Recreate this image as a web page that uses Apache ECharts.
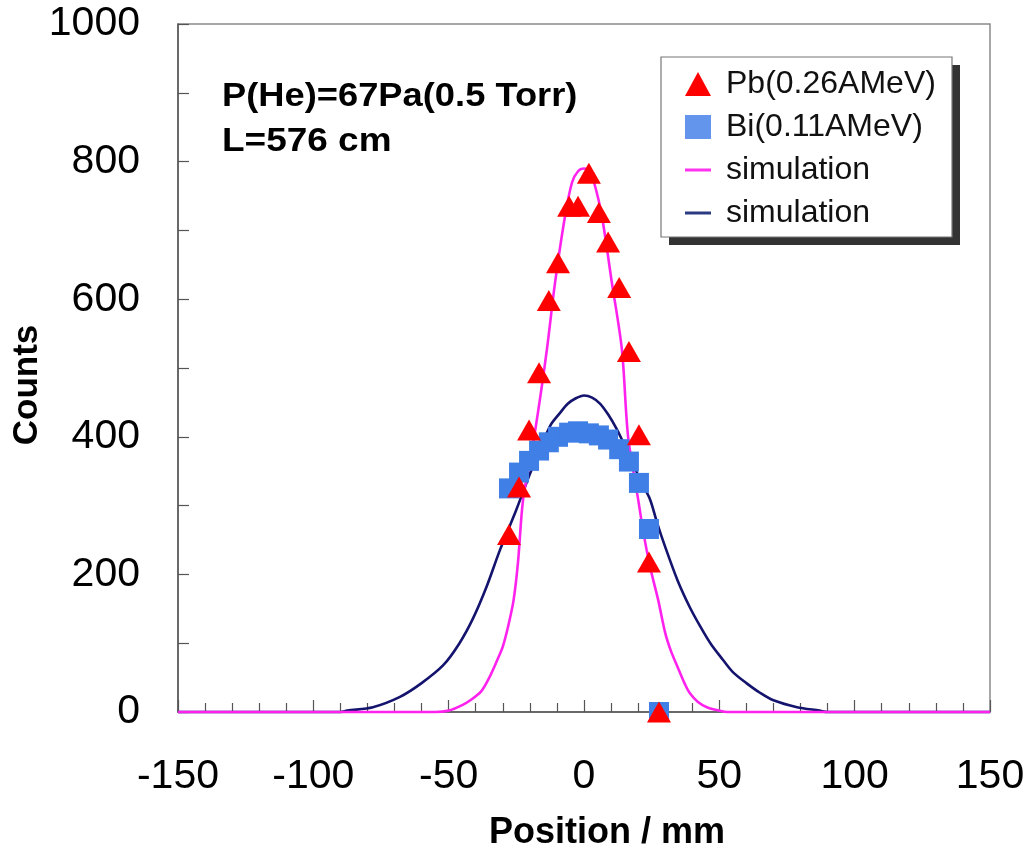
<!DOCTYPE html>
<html>
<head>
<meta charset="utf-8">
<script src="https://cdn.jsdelivr.net/npm/echarts@6/dist/echarts.min.js"></script>
<style>html,body{margin:0;padding:0;background:#fff}#c{width:1028px;height:850px}</style>
</head>
<body>
<div id="c"></div>
<script>
// ---- data ----
var xTicks = [-150, -100, -50, 0, 50, 100, 150];
var yTicks = [0, 200, 400, 600, 800, 1000];

var pbX = [-27.7, -24, -20.3, -16.6, -13, -9.6, -5.5, -2.2, 1.8, 5.5, 8.9, 13, 16.6, 20.3, 24, 27.7];
var pbY = [258, 327, 410, 493, 598, 653, 735, 735, 783, 726, 683, 617, 524, 403, 218, 0];

var biX = [-27.7, -24, -20.3, -16.6, -13, -9.6, -5.5, -2.2, 1.8, 5.5, 8.9, 13, 16.6, 20.3, 24, 27.7];
var biY = [325, 348, 365, 380, 392, 400, 406, 408, 405, 402, 396, 382, 364, 333, 266, 0];

var pinkX = [-150, -55, -50, -45, -42, -38, -35, -32, -30, -28, -26, -24.4, -22.5, -19.2, -16.3, -13.7, -10.7, -7, -4.4, -2.2, 0, 2, 3.7, 6.6, 10.3, 14, 16.3, 20, 22, 24.4, 27.4, 30, 32, 34.5, 37, 39, 42, 45.4, 50, 53, 150];
var pinkY = [0, 0, 2, 10, 17, 30, 50, 76, 95, 125, 163, 217, 309, 381, 454, 527, 624, 721, 770, 786, 790, 786, 770, 721, 624, 527, 400, 309, 260, 211, 163, 115, 90, 66, 43, 28, 15, 7, 2, 0, 0];

var navyX = [-150, -90, -87.5, -78, -68, -60, -52, -46, -41, -36, -31, -25, -20, -16, -12.5, -9, -6, -3, 0, 3, 6, 9, 12, 14, 18, 21, 24.4, 27, 30, 34.5, 39, 43, 47, 51.3, 55, 60, 65, 70, 78.7, 87, 90, 150];
var navyY = [0, 0, 2, 7, 22, 42, 68, 100, 136, 182, 236, 294, 346, 383, 416, 434, 448, 456, 460, 457, 448, 432, 412, 396, 362, 335, 309, 275, 240, 192, 153, 124, 98, 76, 58, 42, 28, 17, 7, 2, 0, 0];

function zip(a, b) { return a.map(function (v, i) { return [v, b[i]]; }); }

var FONT = 'Liberation Sans, Arial, Helvetica, sans-serif';
var LINE_ICON = 'path://M0,0H26V3H0Z';
var chart = echarts.init(document.getElementById('c'), null, {renderer: 'canvas'});

chart.setOption({
  animation: false,
  backgroundColor: '#fff',
  grid: {left: 178, right: 38, top: 24, bottom: 138, show: true, borderColor: '#8a8a8a', borderWidth: 1.5, backgroundColor: 'transparent'},
  xAxis: {
    type: 'value', min: xTicks[0], max: xTicks[xTicks.length - 1], interval: 50,
    axisLine: {show: true, onZero: false, lineStyle: {color: '#555', width: 1.5}},
    axisTick: {show: true, inside: true, length: 12, lineStyle: {color: '#555', width: 1.2}},
    minorTick: {show: true, splitNumber: 5, length: 9, lineStyle: {color: '#555', width: 1.2}},
    splitLine: {show: false},
    axisLabel: {fontSize: 41, color: '#000', fontFamily: FONT, margin: 44,
      formatter: function (v) { return xTicks.indexOf(v) >= 0 ? String(v) : ''; }}
  },
  yAxis: {
    type: 'value', min: yTicks[0], max: yTicks[yTicks.length - 1], interval: 200,
    axisLine: {show: true, onZero: false, lineStyle: {color: '#555', width: 1.5}},
    axisTick: {show: true, inside: true, length: 11, lineStyle: {color: '#555', width: 1.2}},
    minorTick: {show: true, splitNumber: 2, length: 11, lineStyle: {color: '#555', width: 1.2}},
    splitLine: {show: false},
    axisLabel: {fontSize: 41, color: '#000', fontFamily: FONT, margin: 38,
      formatter: function (v) { return yTicks.indexOf(v) >= 0 ? String(v) : ''; }}
  },
  legend: {
    orient: 'vertical', left: 680, top: 63,
    itemWidth: 26, itemHeight: 24, itemGap: 11, itemTextGap: 10,
    textStyle: {fontSize: 32, color: '#111', fontFamily: FONT, padding: [0, 0, 0, 10]},
    data: [
      {name: 'Pb(0.26AMeV)', icon: 'triangle', itemStyle: {color: '#ff0000'}},
      {name: 'Bi(0.11AMeV)', icon: 'rect', itemStyle: {color: '#6495ed'}},
      {name: 'simulation', icon: LINE_ICON, itemStyle: {color: '#ff33ee'}},
      {name: 'simulation ', icon: LINE_ICON, itemStyle: {color: '#2a3a80'}}
    ],
    z: 10
  },
  graphic: [
    {type: 'rect', shape: {x: 669, y: 65, width: 291, height: 180}, style: {fill: '#333'}, z: 5},
    {type: 'rect', shape: {x: 661, y: 57, width: 291, height: 180}, style: {fill: '#fff', stroke: '#777', lineWidth: 1.2}, z: 6},
    {type: 'text', x: 222, y: 97, scaleX: 1.1, style: {text: 'P(He)=67Pa(0.5 Torr)', font: 'bold 33px ' + FONT, fill: '#000', verticalAlign: 'middle'}, z: 7},
    {type: 'text', x: 222, y: 142, scaleX: 1.12, style: {text: 'L=576 cm', font: 'bold 33px ' + FONT, fill: '#000', verticalAlign: 'middle'}, z: 7},
    {type: 'text', x: 27, y: 385, rotation: Math.PI / 2, style: {text: 'Counts', font: 'bold 35px ' + FONT, fill: '#000', align: 'center', verticalAlign: 'middle'}, z: 7},
    {type: 'text', x: 607, y: 833, style: {text: 'Position / mm', font: 'bold 36px ' + FONT, fill: '#000', align: 'center', verticalAlign: 'middle'}, z: 7}
  ],
  series: [
    {name: 'simulation ', type: 'line', data: zip(navyX, navyY), symbol: 'none', smooth: 0.3, clip: false,
      lineStyle: {color: '#14146e', width: 2.6}, itemStyle: {color: '#14146e'}, z: 2},
    {name: 'simulation', type: 'line', data: zip(pinkX, pinkY), symbol: 'none', smooth: 0.3, clip: false,
      lineStyle: {color: '#ff22ee', width: 2.6}, itemStyle: {color: '#ff22ee'}, z: 3},
    {name: 'Bi(0.11AMeV)', type: 'scatter', data: zip(biX, biY), symbol: 'rect', symbolSize: 20, clip: false,
      itemStyle: {color: '#3f7fe6', opacity: 1}, z: 4},
    {name: 'Pb(0.26AMeV)', type: 'scatter', data: zip(pbX, pbY), symbol: 'triangle', symbolSize: [24, 21], clip: false,
      itemStyle: {color: '#ff0000', opacity: 1}, z: 5}
  ]
});
</script>
</body>
</html>
